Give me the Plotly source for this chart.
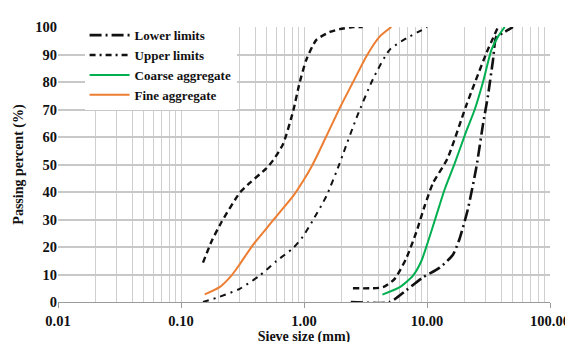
import plotly.graph_objects as go

# ---- data ----
fine_upper_x = [0.151, 0.177, 0.213, 0.30, 0.362, 0.494, 0.56, 0.675, 0.815, 0.923, 1.046, 1.26, 1.62, 1.95, 2.5, 3.0]
fine_upper_y = [14.3, 22.0, 29.0, 39.7, 43.3, 48.6, 51.5, 57.4, 69.3, 79.9, 88.2, 95.3, 98.2, 99.2, 100, 100]

fine_lower_x = [0.151, 0.206, 0.30, 0.436, 0.597, 0.815, 0.98, 1.18, 1.52, 1.95, 2.08, 2.67, 3.64, 4.97, 6.8, 9.0, 10.0]
fine_lower_y = [0.0, 1.9, 4.8, 9.6, 14.9, 19.6, 23.8, 29.7, 38.5, 50.4, 53.9, 66.9, 81.1, 91.7, 95.9, 98.8, 100]

fine_x = [0.156, 0.206, 0.257, 0.30, 0.385, 0.494, 0.634, 0.815, 0.98, 1.15, 1.30, 1.95, 2.5, 3.22, 4.12, 5.13]
fine_y = [2.8, 5.4, 9.6, 13.7, 20.8, 26.7, 32.6, 38.5, 43.9, 49.2, 53.9, 70.5, 79.9, 89.4, 96.5, 100]

coarse_upper_x = [2.5, 4.39, 5.46, 6.8, 8.2, 9.58, 11.2, 14.6, 20.9, 30.4, 37.8]
coarse_upper_y = [5.0, 5.4, 8.4, 16.0, 25.5, 35.0, 43.3, 52.0, 71.6, 90.5, 100]

coarse_lower_x = [2.4, 4.97, 6.8, 9.3, 12.7, 16.3, 18.4, 21.5, 25.2, 28.5, 31.3, 34.4, 36.6, 41.5, 50.0]
coarse_lower_y = [0.0, 0.0, 4.3, 9.0, 12.5, 17.3, 23.0, 33.8, 49.0, 64.5, 75.0, 88.0, 96.5, 97.8, 100]

coarse_x = [4.34, 6.0, 7.7, 9.0, 10.2, 11.9, 13.9, 16.8, 20.9, 24.4, 28.5, 33.4, 37.8, 42.8]
coarse_y = [2.7, 5.4, 9.6, 14.9, 22.0, 31.4, 40.9, 50.4, 62.2, 69.9, 79.9, 91.7, 96.5, 100]

x_tick_vals = [0.01, 0.1, 1, 10, 100]
x_tick_text = ["0.01", "0.10", "1.00", "10.00", "100.00"]
y_tick_vals = list(range(0, 101, 10))
minor_vals = [m * d for d in [0.01, 0.1, 1, 10] for m in range(2, 10)]

FONT = "Liberation Serif"
BLACK = "#111111"
GREEN = "#00B050"
ORANGE = "#ED7D31"

LOWER_DASH = "12px,4px,2px,4px"
LOWER_FINE_DASH = "6px,5px,2px,5px"
UPPER_DASH = "6px,4px"
UPPER_LEG_DASH = "6px,4px,2px,4px"

fig = go.Figure()

# legend-only entries
fig.add_trace(go.Scatter(x=[None], y=[None], mode="lines", name="<b>Lower limits</b>",
                         line=dict(color=BLACK, width=2.6, dash=LOWER_DASH), legendrank=1))
fig.add_trace(go.Scatter(x=[None], y=[None], mode="lines", name="<b>Upper limits</b>",
                         line=dict(color=BLACK, width=2.4, dash=UPPER_LEG_DASH), legendrank=2))

# curves
fig.add_trace(go.Scatter(x=fine_upper_x, y=fine_upper_y, mode="lines", showlegend=False,
                         line=dict(color=BLACK, width=2.4, dash=UPPER_DASH, shape="spline", smoothing=0.6)))
fig.add_trace(go.Scatter(x=fine_lower_x, y=fine_lower_y, mode="lines", showlegend=False,
                         line=dict(color=BLACK, width=2.0, dash=LOWER_FINE_DASH, shape="spline", smoothing=0.6)))
fig.add_trace(go.Scatter(x=coarse_upper_x, y=coarse_upper_y, mode="lines", showlegend=False,
                         line=dict(color=BLACK, width=2.4, dash=UPPER_DASH, shape="spline", smoothing=0.6)))
fig.add_trace(go.Scatter(x=coarse_lower_x, y=coarse_lower_y, mode="lines", showlegend=False,
                         line=dict(color=BLACK, width=2.6, dash=LOWER_DASH, shape="spline", smoothing=0.6)))
fig.add_trace(go.Scatter(x=coarse_x, y=coarse_y, mode="lines", name="<b>Coarse aggregate</b>",
                         line=dict(color=GREEN, width=2, shape="spline", smoothing=0.6), legendrank=3))
fig.add_trace(go.Scatter(x=fine_x, y=fine_y, mode="lines", name="<b>Fine aggregate</b>",
                         line=dict(color=ORANGE, width=2, shape="spline", smoothing=0.6), legendrank=4))

# page body has an 8px margin, so the figure is sized/margined to land at the same spot
fig.update_layout(
    width=565, height=342,
    template="none",
    paper_bgcolor="white", plot_bgcolor="white",
    margin=dict(l=50, r=23, t=12, b=48, pad=0),
    font=dict(family=FONT, size=15, color="#111111"),
    showlegend=True,
    legend=dict(x=0.054, y=1.025, xanchor="left", yanchor="top",
                bgcolor="white", borderwidth=0,
                font=dict(family=FONT, size=13, color="#111111"),
                tracegroupgap=0, itemwidth=40),
)

fig.update_xaxes(
    type="log", range=[-2, 2], automargin=False,
    tickmode="array", tickvals=x_tick_vals,
    ticktext=["<b>%s</b>" % t for t in x_tick_text],
    tickfont=dict(family=FONT, size=14.5, color="#111111"),
    showgrid=True, gridcolor="#cfcfcf", gridwidth=1.3,
    ticks="outside", ticklen=5, tickcolor="#9a9a9a", tickwidth=1.3,
    showline=True, linecolor="#9a9a9a", linewidth=1.3,
    minor=dict(tickmode="array", tickvals=minor_vals, showgrid=True,
               gridcolor="#cfcfcf", gridwidth=1.3, ticks=""),
    zeroline=False, mirror=False,
    title=dict(text="<b>Sieve size (mm)</b>", font=dict(family=FONT, size=14, color="#111111"), standoff=1),
)
fig.update_yaxes(
    range=[0, 100], automargin=False,
    tickmode="array", tickvals=y_tick_vals,
    ticktext=["<b>%d</b>" % v for v in y_tick_vals],
    tickfont=dict(family=FONT, size=14.5, color="#111111"),
    showgrid=True, gridcolor="#c8c8c8", gridwidth=1.5,
    ticks="", showline=False, zeroline=False,
    title=dict(text="<b>Passing percent (%)</b>", font=dict(family=FONT, size=14, color="#111111"), standoff=8),
)

fig.write_html("out.html")
